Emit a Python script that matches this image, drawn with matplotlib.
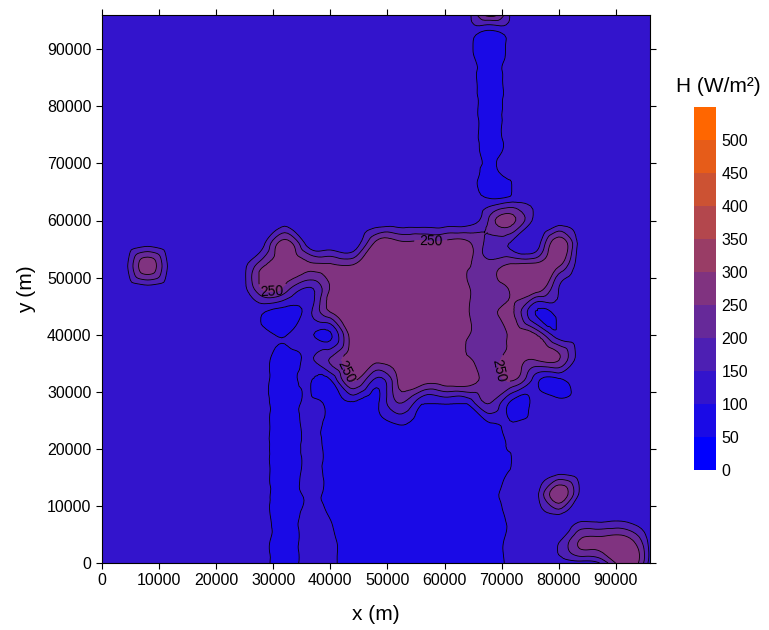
import numpy as np
import matplotlib
matplotlib.use("Agg")
import matplotlib.pyplot as plt
import matplotlib.tri as mtri

plt.rcParams['font.family'] = ['Liberation Sans', 'DejaVu Sans']

# grid coordinates (m)
x_m = np.arange(0, 96001, 4000)
y_m = np.arange(0, 96001, 4000)

# H (W/m^2) on the grid, rows listed from y = 96000 (top) down to y = 0
H_rows_top_down = [
    [125,125,125,125,125,125,125,125,125,125,125,125,125,125,125,125,125,270,125,125,125,125,125,125,125],
    [125,125,125,125,125,125,125,125,125,125,125,125,125,125,125,125,125, 55,125,125,125,125,125,125,125],
    [125,125,125,125,125,125,125,125,125,125,125,125,125,125,125,125,125, 70,125,125,125,125,125,125,125],
    [125,125,125,125,125,125,125,125,125,125,125,125,125,125,125,125,125, 80,125,125,125,125,125,125,125],
    [125,125,125,125,125,125,125,125,125,125,125,125,125,125,125,125,125, 83,125,125,125,125,125,125,125],
    [125,125,125,125,125,125,125,125,125,125,125,125,125,125,125,125,125, 86,125,125,125,125,125,125,125],
    [125,125,125,125,125,125,125,125,125,125,125,125,125,125,125,125,125, 87,125,125,125,125,125,125,125],
    [125,125,125,125,125,125,125,125,125,125,125,125,125,125,125,125,125, 85,125,125,125,125,125,125,125],
    [125,125,125,125,125,125,125,125,125,125,125,125,125,125,125,125,125, 95,112,125,125,125,125,125,125],
    [125,125,125,125,125,125,125,125,112,125,125,125,110,110,110,110,118,215,262,122,110,125,125,125,125],
    [125,125,125,125,125,125,125,126,275,128,110,105,266,266,266,266,262,175,135,110,290,110,125,125,125],
    [125,125,290,125,125,125,115,240,285,262,262,260,290,290,290,290,256,225,267,285,255,110,125,125,125],
    [125,125,118,125,125,125,110,250,230,140,255,290,290,290,290,290,256,225,267,290,150,120,125,125,125],
    [125,125,125,125,125,125,125,108, 75,125,252,290,290,290,290,290,256,225,255, 97,125,125,125,125,125],
    [125,125,125,125,125,125,125,125, 95,125, 92,290,290,290,290,290,256,225,270,255,115,125,125,125,125],
    [125,125,125,125,125,125,125,125, 70,125,200,285,285,285,290,290,256,225,270,270,258,110,125,125,125],
    [125,125,125,125,125,125,125,125, 68,110, 95,255,135,262,285,285,285,225,252,120, 85,125,125,125,125],
    [125,125,125,125,125,125,125,128, 66,115, 85, 90, 85,200,105,105,105,200, 80,130,125,125,125,125,125],
    [125,125,125,125,125,125,125,128, 66,115, 80, 78, 78, 95, 78, 78, 78, 85,115,125,125,125,125,125,125],
    [125,125,125,125,125,125,125,128, 66,115, 80, 75, 75, 75, 75, 75, 75, 80,108,125,125,125,125,125,125],
    [125,125,125,125,125,125,125,128, 66,115, 80, 75, 75, 75, 75, 75, 75, 80,106,125,125,125,125,125,125],
    [125,125,125,125,125,125,125,128, 66,112, 80, 75, 75, 75, 75, 75, 75, 80,106,125,290,125,125,125,125],
    [125,125,125,125,125,125,125,128, 68,125, 97, 78, 75, 75, 75, 75, 75, 80,110,125,125,125,125,125,125],
    [125,125,125,125,125,125,125,128, 68,130,115, 78, 75, 75, 75, 75, 75, 80,112,125,140,258,268,272,125],
    [125,125,125,125,125,125,125,128, 68,130,115, 80, 75, 75, 75, 75, 75, 80,115,125,125,125,175,295,125],
]

levels = [0, 50, 100, 150, 200, 250, 300, 350, 400, 450, 500, 550]
cbar_ticks = [0, 50, 100, 150, 200, 250, 300, 350, 400, 450, 500]
xticks = [0, 10000, 20000, 30000, 40000, 50000, 60000, 70000, 80000, 90000]
yticks = [0, 10000, 20000, 30000, 40000, 50000, 60000, 70000, 80000, 90000]
label_level = [250]
label_spots = [(57600, 56300), (29800, 49500), (41800, 33400), (70800, 34000)]

H = np.flipud(np.array(H_rows_top_down, dtype=float))
X, Y = np.meshgrid(x_m, y_m)

# smooth surface through the grid values (matplotlib cubic triangular
# interpolation), kept inside the range of each grid cell's corner values
tri = mtri.Triangulation(X.ravel(), Y.ravel())
interp = mtri.CubicTriInterpolator(tri, H.ravel(), kind='min_E')
refiner = mtri.UniformTriRefiner(tri)
tri_f, H_f = refiner.refine_field(H.ravel(), triinterpolator=interp, subdiv=3)
dx = x_m[1] - x_m[0]
dy = y_m[1] - y_m[0]
ci = np.clip(np.floor(tri_f.x / dx + 1e-9).astype(int), 0, len(x_m) - 2)
cj = np.clip(np.floor(tri_f.y / dy + 1e-9).astype(int), 0, len(y_m) - 2)
corners = np.stack([H[cj, ci], H[cj + 1, ci], H[cj, ci + 1], H[cj + 1, ci + 1]])
H_f = np.clip(H_f, corners.min(axis=0), corners.max(axis=0))

# colour bands: linear ramp blue -> orange
c0 = np.array([0, 0, 255]) / 255.0
c1 = np.array([255, 102, 0]) / 255.0
nb = len(levels) - 1
band_colors = [tuple(c0 + (c1 - c0) * k / (nb - 1)) for k in range(nb)]

fig = plt.figure(figsize=(7.69, 6.30), dpi=100)
ax = fig.add_axes([102 / 769, 67 / 630, 548 / 769, 548 / 630])

cs = ax.tricontourf(tri_f, H_f, levels=levels, colors=band_colors)
other_levels = [v for v in levels if v not in label_level]
ax.tricontour(tri_f, H_f, levels=other_levels, colors='black', linewidths=0.6)
cl = ax.tricontour(tri_f, H_f, levels=label_level, colors='black', linewidths=0.6)
ax.clabel(cl, manual=label_spots, fmt='%d', fontsize=10, inline=True, colors='black')

ax.set_xlim(x_m[0], x_m[-1])
ax.set_ylim(y_m[0], y_m[-1])
ax.set_xticks(xticks)
ax.set_xticklabels([str(v) for v in xticks])
ax.set_yticks(yticks)
ax.set_yticklabels([str(v) for v in yticks])
ax.tick_params(direction='out', top=True, right=True, length=4, width=0.8,
               labelsize=11.5, colors='black')
for s in ax.spines.values():
    s.set_linewidth(0.8)
ax.set_xlabel('x (m)', fontsize=15, labelpad=12)
ax.set_ylabel('y (m)', fontsize=15, labelpad=8)

cax = fig.add_axes([694 / 769, 160 / 630, 22 / 769, 363 / 630])
cb = fig.colorbar(cs, cax=cax, ticks=cbar_ticks)
cb.outline.set_visible(False)
cax.tick_params(length=0, labelsize=11.5, pad=4)
fig.text(718 / 769, 1 - 87 / 630, 'H (W/m²)', ha='center', va='center', fontsize=15)

fig.savefig('out.png', dpi=100)
